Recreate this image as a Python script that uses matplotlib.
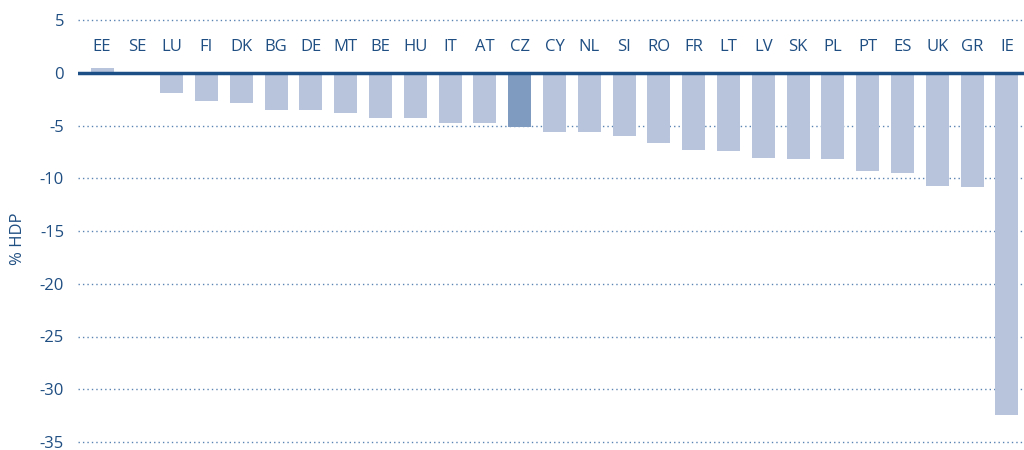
import matplotlib
matplotlib.use('Agg')
import matplotlib.pyplot as plt

countries = ['EE', 'SE', 'LU', 'FI', 'DK', 'BG', 'DE', 'MT', 'BE', 'HU', 'IT', 'AT', 'CZ',
             'CY', 'NL', 'SI', 'RO', 'FR', 'LT', 'LV', 'SK', 'PL', 'PT', 'ES', 'UK', 'GR', 'IE']
values = [0.45, 0.0, -1.9, -2.7, -2.9, -3.5, -3.5, -3.8, -4.3, -4.3, -4.8, -4.8, -5.1,
          -5.6, -5.6, -6.0, -6.7, -7.3, -7.4, -8.1, -8.2, -8.2, -9.3, -9.5, -10.7, -10.8, -32.4]
yticks = [5, 0, -5, -10, -15, -20, -25, -30, -35]

text_col = '#1f4e82'
bar_col = '#b8c4dc'
hi_col = '#809bc0'

plt.rcParams['font.family'] = ['Open Sans', 'DejaVu Sans']

fig = plt.figure(figsize=(10.24, 4.5), dpi=100)
ax = fig.add_axes([78 / 1024, 8 / 450, 946 / 1024, 422 / 450])

x = list(range(len(countries)))
colors = [hi_col if c == 'CZ' else bar_col for c in countries]
ax.bar(x, values, width=0.66, color=colors, zorder=2)

for yv in yticks:
    if yv != 0:
        ax.axhline(yv, color='#5b84b3', linestyle=(0, (1, 2.2)), linewidth=1.0, zorder=1, clip_on=False)
ax.axhline(0, color='#1b4f85', linewidth=2.5, zorder=3)

for i, c in enumerate(countries):
    ax.text(i, 2.4, c, ha='center', va='center', fontsize=12, color=text_col)

ax.set_xlim(-0.69, 26.49)
ax.set_ylim(-35, 5)
ax.set_yticks(yticks)
ax.set_yticklabels([str(t) for t in yticks], fontsize=12, color=text_col)
ax.set_xticks([])
ax.tick_params(axis='y', length=0, pad=10)
for s in ax.spines.values():
    s.set_visible(False)
fig.text(18 / 1024, 0.47, '% HDP', rotation=90, ha='center', va='center', fontsize=12, color=text_col)

plt.savefig('out.png', dpi=100)
